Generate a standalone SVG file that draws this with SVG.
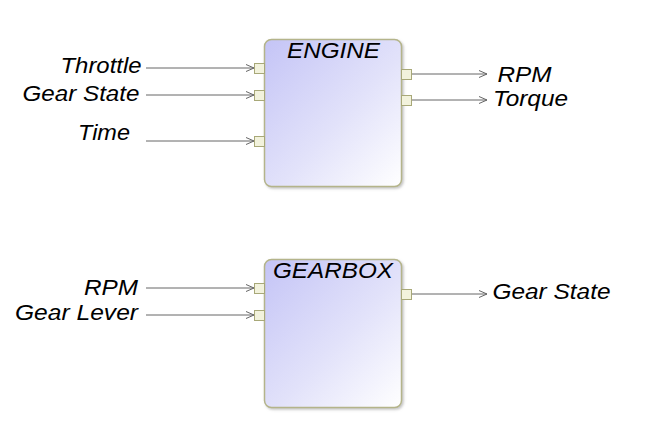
<svg xmlns="http://www.w3.org/2000/svg" width="653" height="445" viewBox="0 0 653 445">
<defs>
<linearGradient id="bg" x1="0" y1="0" x2="1" y2="1">
<stop offset="0" stop-color="#c4c4f6"/>
<stop offset="0.55" stop-color="#e2e2fa"/>
<stop offset="1" stop-color="#ffffff"/>
</linearGradient>
<marker id="arr" markerWidth="10" markerHeight="10" refX="9" refY="5" orient="auto" markerUnits="userSpaceOnUse">
<path d="M1,1.5 L9,5 L1,8.5" fill="none" stroke="#666" stroke-width="1"/>
</marker>
<filter id="sh" x="-10%" y="-10%" width="130%" height="130%">
<feDropShadow dx="1.5" dy="1.5" stdDeviation="1" flood-color="#888" flood-opacity="0.5"/>
</filter>
</defs>
<style>
.box{fill:url(#bg);stroke:#b4b48a;stroke-width:1.5;filter:url(#sh)}
.port{fill:#f2f2dc;stroke:#a8a878;stroke-width:1}
.lbl{font-family:"Liberation Sans",Arial,sans-serif;font-style:italic;font-size:22.5px;fill:#000}
.ln{stroke:#666;stroke-width:1;fill:none;marker-end:url(#arr)}
</style>
<rect width="653" height="445" fill="#fff"/>
<g id="connectors">
<line class="ln" x1="146" y1="68" x2="254" y2="68"/>
<line class="ln" x1="146" y1="95" x2="254" y2="95"/>
<line class="ln" x1="146" y1="141" x2="254" y2="141"/>
<line class="ln" x1="411" y1="74" x2="487" y2="74"/>
<line class="ln" x1="411" y1="100" x2="487" y2="100"/>
<line class="ln" x1="146" y1="288" x2="254" y2="288"/>
<line class="ln" x1="146" y1="315" x2="254" y2="315"/>
<line class="ln" x1="411" y1="294" x2="487" y2="294"/>
</g>
<g id="engine">
<rect class="box" x="264.5" y="39.5" width="137" height="147" rx="7"/>
<text class="lbl" x="287" y="57.5" textLength="93" lengthAdjust="spacingAndGlyphs">ENGINE</text>
<rect class="port" x="254.5" y="63.5" width="10" height="10"/>
<rect class="port" x="254.5" y="90.5" width="10" height="10"/>
<rect class="port" x="254.5" y="136.5" width="10" height="10"/>
<rect class="port" x="401.5" y="69.5" width="10" height="10"/>
<rect class="port" x="401.5" y="95.5" width="10" height="10"/>
</g>
<g id="gearbox">
<rect class="box" x="264.5" y="259.5" width="137" height="148" rx="7"/>
<text class="lbl" x="273" y="277.5" textLength="120" lengthAdjust="spacingAndGlyphs">GEARBOX</text>
<rect class="port" x="254.5" y="283.5" width="10" height="10"/>
<rect class="port" x="254.5" y="310.5" width="10" height="10"/>
<rect class="port" x="401.5" y="289.5" width="10" height="10"/>
</g>
<g id="labels">
<text class="lbl" x="60.5" y="72.5" textLength="81" lengthAdjust="spacingAndGlyphs">Throttle</text>
<text class="lbl" x="22.5" y="100.5" textLength="117" lengthAdjust="spacingAndGlyphs">Gear State</text>
<text class="lbl" x="78" y="140" textLength="52" lengthAdjust="spacingAndGlyphs">Time</text>
<text class="lbl" x="497.5" y="81.5" textLength="54" lengthAdjust="spacingAndGlyphs">RPM</text>
<text class="lbl" x="493" y="105.5" textLength="75" lengthAdjust="spacingAndGlyphs">Torque</text>
<text class="lbl" x="84" y="295" textLength="54" lengthAdjust="spacingAndGlyphs">RPM</text>
<text class="lbl" x="15" y="320" textLength="123" lengthAdjust="spacingAndGlyphs">Gear Lever</text>
<text class="lbl" x="492.5" y="299.3" textLength="118" lengthAdjust="spacingAndGlyphs">Gear State</text>
</g>
</svg>
